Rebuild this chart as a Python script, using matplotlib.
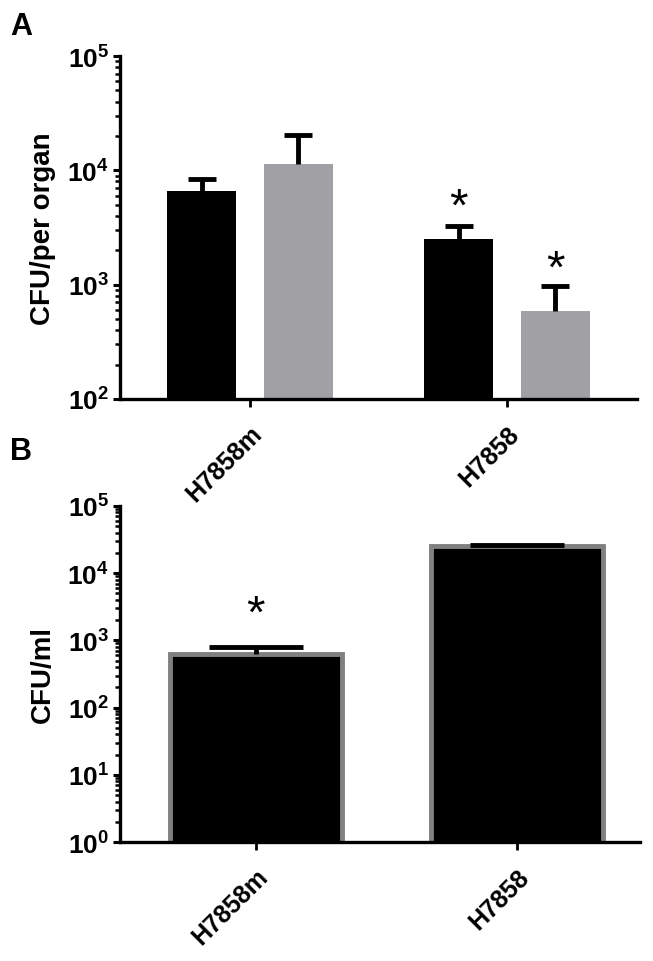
import numpy as np
import matplotlib
matplotlib.use('Agg')
import matplotlib.pyplot as plt
from matplotlib.ticker import LogLocator, NullFormatter, FixedLocator

plt.rcParams['font.family'] = ['Liberation Sans', 'DejaVu Sans']
plt.rcParams['mathtext.fontset'] = 'custom'
plt.rcParams['mathtext.rm'] = 'Liberation Sans:bold'
plt.rcParams['mathtext.bf'] = 'Liberation Sans:bold'

# data
strains = ['H7858m', 'H7858']
organ_black = [6550, 2520]
organ_black_err = [1910, 720]
organ_gray = [11300, 585]
organ_gray_err = [8900, 382]
organ_black_star = [False, True]
organ_gray_star = [False, True]

blood = [638, 25400]
blood_err = [165, 600]
blood_star = [True, False]

fig = plt.figure(figsize=(6.53, 9.62), dpi=100)

def style_axes(ax, lo, hi):
    ax.set_yscale('log')
    ax.set_ylim(10**lo, 10**hi)
    for s in ['top', 'right']:
        ax.spines[s].set_visible(False)
    for s in ['left', 'bottom']:
        ax.spines[s].set_linewidth(2.4)
    ax.yaxis.set_major_locator(FixedLocator([10**k for k in range(lo, hi + 1)]))
    ax.set_yticklabels([r'$\mathbf{10^{%d}}$' % k for k in range(lo, hi + 1)])
    ax.yaxis.set_minor_locator(LogLocator(base=10, subs=np.arange(2, 10), numticks=20))
    ax.yaxis.set_minor_formatter(NullFormatter())
    ax.tick_params(axis='y', which='major', length=5, width=2.2, labelsize=19, pad=3)
    ax.tick_params(axis='y', which='minor', length=3.5, width=1.8)
    ax.tick_params(axis='x', which='major', length=6, width=2, pad=10)
    x = np.arange(len(strains))
    ax.set_xticks(x)
    ax.set_xticklabels(strains, rotation=45, ha='right', rotation_mode='anchor',
                       fontsize=18, fontweight='bold')

def up_errorbar(ax, xs, ys, err, capsize):
    # one-sided (upper) error bars, no lower cap
    _, caps, _ = ax.errorbar(xs, ys, yerr=[np.zeros(len(ys)), err], fmt='none',
                             ecolor='black', elinewidth=3.5, capsize=capsize,
                             capthick=3.5, zorder=3)
    caps[0].set_visible(False)

# ---- panel A ----
axA = fig.add_axes([0.1838, 0.5842, 0.7917, 0.3565])
x = np.arange(len(strains))
off = 0.188
w = 0.27
axA.bar(x - off, organ_black, width=w, color='black', zorder=2)
axA.bar(x + off, organ_gray, width=w, color='#a1a1a5', zorder=2)
up_errorbar(axA, x - off, organ_black, organ_black_err, 10)
up_errorbar(axA, x + off, organ_gray, organ_gray_err, 10)
style_axes(axA, 2, 5)
axA.set_xlim(-0.506, 1.506)
axA.set_ylabel('CFU/per organ', fontsize=20, fontweight='bold', labelpad=8)
for i in range(len(strains)):
    if organ_black_star[i]:
        top = organ_black[i] + organ_black_err[i]
        axA.text(x[i] - off, top * 1.45, '*', ha='center', va='center', fontsize=34)
    if organ_gray_star[i]:
        top = organ_gray[i] + organ_gray_err[i]
        axA.text(x[i] + off, top * 1.4, '*', ha='center', va='center', fontsize=34)

# ---- panel B ----
axB = fig.add_axes([0.1838, 0.1237, 0.7963, 0.3493])
axB.bar(x, blood, width=0.66, color='black', edgecolor='#808080', linewidth=3.5, zorder=2)
up_errorbar(axB, x, blood, blood_err, 34)
style_axes(axB, 0, 5)
axB.set_xlim(-0.52, 1.47)
axB.set_ylabel('CFU/ml', fontsize=20, fontweight='bold', labelpad=8)
for i in range(len(strains)):
    if blood_star[i]:
        top = blood[i] + blood_err[i]
        axB.text(x[i], top * 3.0, '*', ha='center', va='center', fontsize=34)

fig.text(0.015, 0.988, 'A', fontsize=22, fontweight='bold', ha='left', va='top')
fig.text(0.015, 0.546, 'B', fontsize=22, fontweight='bold', ha='left', va='top')

fig.savefig('out.png', dpi=100)
